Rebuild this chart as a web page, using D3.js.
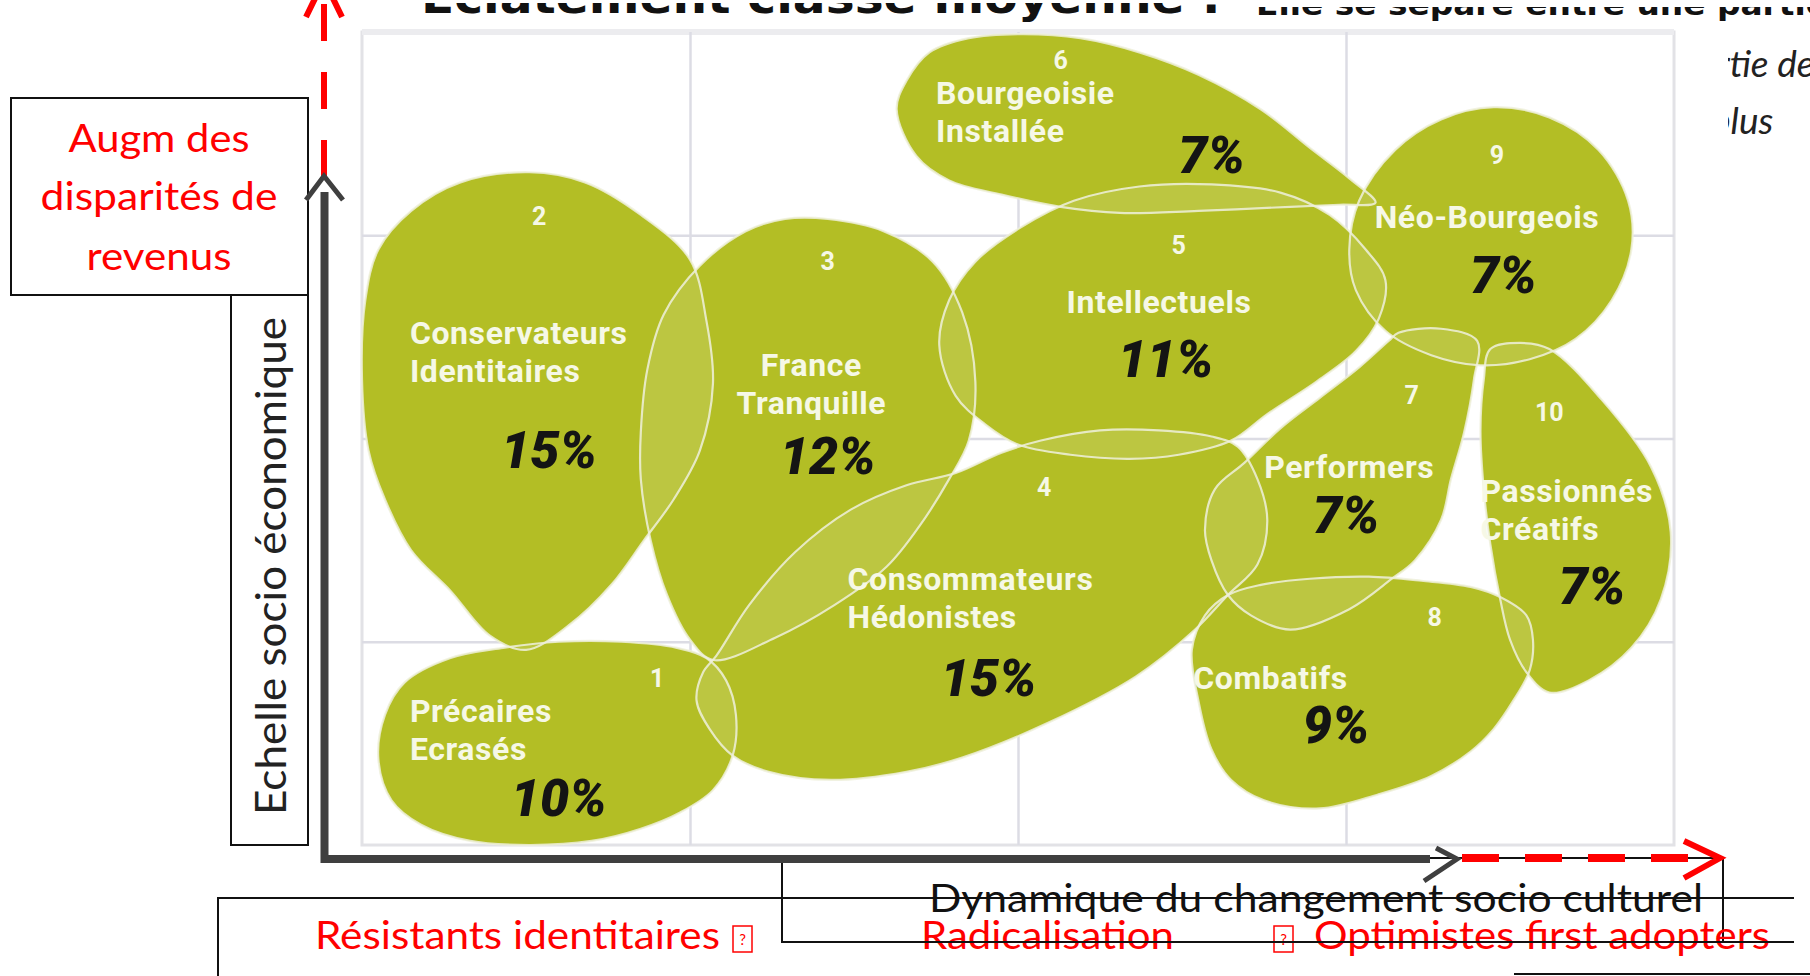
<html>
<head>
  <script src="https://d3js.org/d3.v7.min.js"></script>
  <style>
    body { margin: 0; background: white; }
    svg { display: block; }
  </style>
</head>
<body>
  <svg id="chart" width="1810" height="976"></svg>
  <script>
    // segments of the "classe moyenne" map
    const segIds = [1, 2, 3, 4, 5, 6, 7, 8, 9, 10];
    const segNames = [
      ["Précaires", "Ecrasés"],
      ["Conservateurs", "Identitaires"],
      ["France", "Tranquille"],
      ["Consommateurs", "Hédonistes"],
      ["Intellectuels"],
      ["Bourgeoisie", "Installée"],
      ["Performers"],
      ["Combatifs"],
      ["Néo-Bourgeois"],
      ["Passionnés", "Créatifs"]
    ];
    const segShares = [10, 15, 12, 15, 11, 7, 7, 9, 7, 7];

    // blob outlines, in grid units (x: socio culturel 0-4, y: socio économique 0-4)
    const segOutlines = [
      [[0.27,0.92],[0.43,0.97],[0.60,1.00],[0.79,1.00],[0.96,0.97],[1.05,0.92],[1.11,0.81],[1.14,0.64],[1.13,0.44],[1.07,0.27],[0.97,0.16],[0.85,0.08],[0.70,0.02],[0.51,0.00],[0.33,0.02],[0.18,0.10],[0.09,0.22],[0.05,0.42],[0.07,0.64],[0.13,0.80]],
      [[0.51,3.31],[0.68,3.26],[0.85,3.10],[1.00,2.88],[1.05,2.58],[1.07,2.27],[1.03,1.94],[0.95,1.70],[0.86,1.50],[0.76,1.28],[0.63,1.08],[0.50,0.96],[0.39,1.03],[0.27,1.25],[0.15,1.45],[0.07,1.70],[0.02,1.94],[0.00,2.29],[0.01,2.68],[0.05,2.93],[0.15,3.12],[0.30,3.26]],
      [[1.42,3.08],[1.59,3.02],[1.74,2.87],[1.83,2.62],[1.87,2.28],[1.85,1.99],[1.79,1.80],[1.70,1.57],[1.60,1.37],[1.44,1.18],[1.26,1.02],[1.07,0.91],[1.00,1.01],[0.93,1.23],[0.88,1.50],[0.85,1.80],[0.85,2.03],[0.87,2.34],[0.92,2.61],[1.03,2.85],[1.17,3.02],[1.29,3.08]],
      [[1.81,1.83],[1.95,1.93],[2.07,1.99],[2.25,2.04],[2.43,2.04],[2.59,2.01],[2.67,1.96],[2.73,1.80],[2.76,1.60],[2.73,1.38],[2.64,1.23],[2.54,1.06],[2.36,0.83],[2.09,0.60],[1.83,0.43],[1.66,0.36],[1.43,0.32],[1.24,0.36],[1.13,0.44],[1.06,0.57],[1.02,0.71],[1.04,0.85],[1.08,0.93],[1.18,1.18],[1.32,1.44],[1.49,1.65],[1.66,1.77]],
      [[1.76,2.46],[1.79,2.68],[1.87,2.87],[2.01,3.04],[2.17,3.17],[2.37,3.24],[2.59,3.25],[2.80,3.21],[2.95,3.10],[3.06,2.93],[3.12,2.78],[3.10,2.59],[3.03,2.43],[2.91,2.28],[2.76,2.12],[2.65,1.99],[2.49,1.92],[2.34,1.90],[2.16,1.92],[2.00,1.97],[1.90,2.07],[1.81,2.21]],
      [[1.63,3.62],[1.66,3.76],[1.73,3.90],[1.85,3.97],[2.01,3.99],[2.19,3.97],[2.37,3.90],[2.55,3.79],[2.74,3.62],[2.89,3.43],[3.01,3.28],[3.09,3.16],[2.98,3.15],[2.83,3.14],[2.55,3.12],[2.31,3.11],[2.13,3.14],[1.95,3.20],[1.79,3.27],[1.69,3.39]],
      [[3.13,2.48],[3.16,2.52],[3.29,2.54],[3.40,2.48],[3.39,2.29],[3.36,2.03],[3.32,1.80],[3.29,1.60],[3.21,1.40],[3.14,1.31],[3.01,1.16],[2.83,1.06],[2.71,1.13],[2.64,1.23],[2.59,1.40],[2.57,1.55],[2.60,1.75],[2.69,1.88],[2.80,2.05],[2.92,2.20],[3.04,2.35]],
      [[2.64,1.23],[2.74,1.28],[2.89,1.31],[3.07,1.32],[3.23,1.30],[3.38,1.27],[3.47,1.22],[3.55,1.13],[3.57,1.01],[3.56,0.86],[3.51,0.71],[3.45,0.57],[3.38,0.46],[3.26,0.34],[3.10,0.25],[2.92,0.18],[2.75,0.22],[2.65,0.32],[2.59,0.47],[2.55,0.71],[2.53,0.96],[2.57,1.13]],
      [[3.45,3.63],[3.62,3.58],[3.77,3.42],[3.86,3.17],[3.87,2.93],[3.81,2.68],[3.70,2.49],[3.56,2.39],[3.41,2.36],[3.26,2.41],[3.12,2.53],[3.03,2.73],[3.01,2.93],[3.04,3.17],[3.15,3.42],[3.29,3.57]],
      [[3.44,2.44],[3.53,2.47],[3.62,2.44],[3.78,2.19],[3.93,1.86],[3.99,1.54],[3.96,1.21],[3.87,0.97],[3.74,0.81],[3.62,0.75],[3.55,0.85],[3.50,1.01],[3.47,1.21],[3.44,1.48],[3.42,1.75],[3.41,2.04],[3.42,2.29]]
    ];

    // label anchors, grid units
    const numAt = [[0.90,0.82],[0.54,3.09],[1.42,2.87],[2.08,1.76],[2.49,2.95],[2.13,3.86],[3.20,2.21],[3.27,1.12],[3.46,3.39],[3.62,2.13]];
    const nameAt = [[0.146,0.66],[0.146,2.52],[1.37,2.36],[1.48,1.31],[2.43,2.67],[1.75,3.70],[3.01,1.86],[2.77,0.82],[3.43,3.09],[3.41,1.74]];
    const nameAnchor = ["start","start","middle","start","middle","start","middle","middle","middle","start"];
    const shareAt = [[0.60,0.23],[0.57,1.94],[1.42,1.91],[1.91,0.82],[2.45,2.39],[2.59,3.39],[3.00,1.62],[2.97,0.59],[3.48,2.80],[3.75,1.27]];

    const gridLines = [1, 2, 3];

    const svg = d3.select("#chart");
    const x = d3.scaleLinear().domain([0, 4]).range([362, 1674]);
    const y = d3.scaleLinear().domain([0, 4]).range([845, 32]);

    // top cut-off title
    svg.append("text").attr("x", 421).attr("y", 13)
      .attr("font-family", "DejaVu Sans").attr("font-weight", "bold").attr("font-size", 44)
      .attr("textLength", 800).attr("lengthAdjust", "spacingAndGlyphs").attr("fill", "#111")
      .text("Eclatement classe moyenne :");
    svg.append("text").attr("x", 1256).attr("y", 15)
      .attr("font-family", "DejaVu Sans").attr("font-weight", "bold").attr("font-size", 30)
      .attr("textLength", 572).attr("lengthAdjust", "spacingAndGlyphs").attr("fill", "#111")
      .text("Elle se sépare entre une partie");
    svg.append("rect").attr("x", 400).attr("y", 0).attr("width", 1410).attr("height", 3).attr("fill", "white");
    svg.append("rect").attr("x", 1236).attr("y", 0).attr("width", 574).attr("height", 7).attr("fill", "white");

    // right side italic text, clipped by the picture margin
    svg.append("clipPath").attr("id", "rclip")
      .append("rect").attr("x", 1728).attr("y", 30).attr("width", 100).attr("height", 140);
    const rt = svg.append("g").attr("clip-path", "url(#rclip)")
      .attr("font-family", "Lato").attr("font-style", "italic").attr("font-size", 37).attr("fill", "#222");
    rt.append("text").attr("x", 1717).attr("y", 77).text("rtie de la");
    rt.append("text").attr("x", 1711).attr("y", 134).text("plus");

    // panel
    svg.append("rect").attr("x", x(0)).attr("y", y(4)).attr("width", x(4) - x(0)).attr("height", y(0) - y(4))
      .attr("fill", "white").attr("stroke", "#e2e2e6").attr("stroke-width", 3);
    svg.append("rect").attr("x", x(0)).attr("y", y(4) - 3).attr("width", x(4) - x(0)).attr("height", 6)
      .attr("fill", "#ececef");

    svg.append("g").attr("class", "grid")
      .attr("transform", `translate(0,${y(0)})`)
      .call(d3.axisBottom(x).tickValues(gridLines).tickSize(-(y(0) - y(4))).tickFormat(""));
    svg.append("g").attr("class", "grid")
      .attr("transform", `translate(${x(0)},0)`)
      .call(d3.axisLeft(y).tickValues(gridLines).tickSize(-(x(4) - x(0))).tickFormat(""));
    svg.selectAll(".grid .domain").remove();
    svg.selectAll(".grid line").attr("stroke", "#dcdce4").attr("stroke-width", 2.5);

    const blob = d3.line()
      .x(d => x(d[0])).y(d => y(d[1]))
      .curve(d3.curveCatmullRomClosed.alpha(0.5));

    const defs = svg.append("defs");
    segOutlines.forEach((pts, i) => {
      defs.append("clipPath").attr("id", "seg" + i).append("path").attr("d", blob(pts));
    });

    const blobs = svg.append("g");
    blobs.selectAll("path.fill").data(segOutlines).join("path")
      .attr("class", "fill").attr("d", blob).attr("fill", "#b3be25");

    // lighter lens where two segments overlap
    segOutlines.forEach((a, i) => {
      segOutlines.forEach((b, j) => {
        if (j <= i) return;
        blobs.append("path").attr("d", blob(a))
          .attr("clip-path", `url(#seg${j})`)
          .attr("fill", "#ffffff").attr("fill-opacity", 0.13);
      });
    });
    blobs.selectAll("path.edge").data(segOutlines).join("path")
      .attr("class", "edge").attr("d", blob).attr("fill", "none")
      .attr("stroke", "#eef0dc").attr("stroke-width", 2.2).attr("stroke-opacity", 0.85);

    // labels
    const labels = svg.append("g");
    segIds.forEach((id, i) => {
      labels.append("text")
        .attr("x", x(numAt[i][0])).attr("y", y(numAt[i][1]))
        .attr("text-anchor", "middle").attr("dominant-baseline", "central")
        .attr("font-family", "Roboto").attr("font-weight", "bold").attr("font-size", 25)
        .attr("fill", "#f6f8e6").text(id);
      segNames[i].forEach((line, k) => {
        labels.append("text")
          .attr("x", x(nameAt[i][0])).attr("y", y(nameAt[i][1]) + k * 38)
          .attr("text-anchor", nameAnchor[i]).attr("dominant-baseline", "central")
          .attr("font-family", "Roboto").attr("font-weight", "bold").attr("font-size", 32)
          .attr("letter-spacing", 0.6)
          .attr("fill", "#f6f8e6").text(line);
      });
      labels.append("text")
        .attr("x", x(shareAt[i][0])).attr("y", y(shareAt[i][1]))
        .attr("text-anchor", "middle").attr("dominant-baseline", "central")
        .attr("font-family", "Roboto").attr("font-weight", "900").attr("font-style", "italic")
        .attr("font-size", 52).attr("fill", "#141414").text(segShares[i] + "%");
    });

    // annotation boxes
    const boxes = svg.append("g").attr("fill", "none").attr("stroke", "#111").attr("stroke-width", 2);
    boxes.append("rect").attr("x", 11).attr("y", 98).attr("width", 297).attr("height", 197).attr("fill", "white");
    boxes.append("rect").attr("x", 231).attr("y", 295).attr("width", 77).attr("height", 550);
    boxes.append("rect").attr("x", 782).attr("y", 858).attr("width", 941).attr("height", 84);
    boxes.append("path").attr("d", "M218,976 V898 H1794");
    boxes.append("path").attr("d", "M1514,974 H1810");

    const red = "#ff0000";
    const calibri = "Lato";
    const topBox = svg.append("g").attr("font-family", calibri).attr("font-size", 38)
      .attr("fill", red).attr("text-anchor", "middle");
    [["Augm des", 152, 181], ["disparités de", 210, 237], ["revenus", 270, 145]].forEach(t => {
      topBox.append("text").attr("x", 159).attr("y", t[1])
        .attr("textLength", t[2]).attr("lengthAdjust", "spacingAndGlyphs").text(t[0]);
    });

    svg.append("text")
      .attr("transform", "translate(286,566) rotate(-90)")
      .attr("text-anchor", "middle").attr("font-family", "Lato").attr("font-size", 42)
      .attr("textLength", 498).attr("lengthAdjust", "spacingAndGlyphs")
      .attr("fill", "#222").text("Echelle socio économique");

    svg.append("text").attr("x", 929).attr("y", 912)
      .attr("font-family", calibri).attr("font-size", 38).attr("fill", "#111")
      .attr("textLength", 774).attr("lengthAdjust", "spacingAndGlyphs")
      .text("Dynamique du changement socio culturel");

    const bottom = svg.append("g").attr("font-family", calibri).attr("font-size", 38).attr("fill", red);
    [["Résistants identitaires", 315, 405], ["Radicalisation", 921, 253], ["Optimistes first adopters", 1314, 456]].forEach(t => {
      bottom.append("text").attr("x", t[1]).attr("y", 949)
        .attr("textLength", t[2]).attr("lengthAdjust", "spacingAndGlyphs").text(t[0]);
    });
    [733, 1274].forEach(bx => {
      bottom.append("rect").attr("x", bx).attr("y", 926).attr("width", 19).attr("height", 26)
        .attr("fill", "none").attr("stroke", red).attr("stroke-width", 1.5);
      bottom.append("text").attr("x", bx + 9.5).attr("y", 945).attr("text-anchor", "middle")
        .attr("font-size", 15).text("?");
    });
    // strike line over the lower texts
    svg.append("path").attr("d", "M782,942 H1794").attr("stroke", "#111").attr("stroke-width", 2);

    // axes arrows
    const axes = svg.append("g").attr("fill", "none");
    axes.append("path").attr("d", "M324,-20 V177").attr("stroke", red).attr("stroke-width", 6)
      .attr("stroke-dasharray", "37,31")
      .attr("transform", "rotate(180,324,78.5)");
    axes.append("path").attr("d", "M306,17 L324,-20 L342,17").attr("stroke", red).attr("stroke-width", 6);
    axes.append("path").attr("d", "M324.5,192 V859 H1430").attr("stroke", "#3f3f3f").attr("stroke-width", 8)
      .attr("stroke-linejoin", "miter");
    axes.append("path").attr("d", "M306,200 L324,176 L343,200").attr("stroke", "#3f3f3f").attr("stroke-width", 5);
    axes.append("path").attr("d", "M1436,848 L1457,859 L1424,881").attr("stroke", "#3f3f3f").attr("stroke-width", 5);
    axes.append("path").attr("d", "M1462,858 H1700").attr("stroke", red).attr("stroke-width", 8)
      .attr("stroke-dasharray", "37,26");
    axes.append("path").attr("d", "M1684,841 L1720,858 L1684,878").attr("stroke", red).attr("stroke-width", 6);
  </script>
</body>
</html>
